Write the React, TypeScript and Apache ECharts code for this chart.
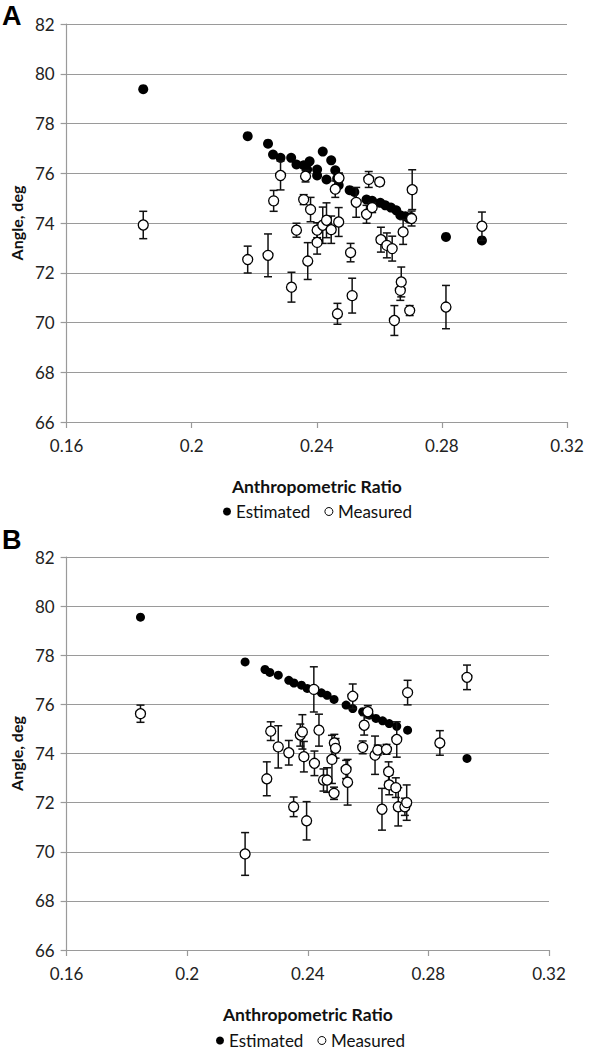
import React, { useEffect, useRef } from "react";
import * as echarts from "echarts";

// ---------- data ----------
const yTicks = [66, 68, 70, 72, 74, 76, 78, 80, 82];
const xTicks = [0.16, 0.2, 0.24, 0.28, 0.32];

// Panel A: estimated [ratio, angle]
const estA: number[][] = [
  [0.1845, 79.38], [0.2179, 77.49], [0.2244, 77.19], [0.226, 76.75], [0.2284, 76.62],
  [0.2318, 76.62], [0.2335, 76.35], [0.2358, 76.32], [0.2369, 76.15], [0.2377, 76.48],
  [0.2401, 76.15], [0.2401, 75.91], [0.2419, 76.87], [0.2431, 75.75], [0.2446, 76.52],
  [0.2459, 76.12], [0.2465, 75.79], [0.247, 75.52], [0.2505, 75.32], [0.252, 75.25],
  [0.2559, 74.94], [0.2577, 74.89], [0.2603, 74.81], [0.2619, 74.71], [0.2637, 74.62],
  [0.2654, 74.51], [0.2667, 74.31], [0.2683, 74.27], [0.2694, 74.18], [0.2701, 74.24],
  [0.2813, 73.44], [0.2928, 73.3],
];
// Panel A: measured [ratio, angle, error]
const measA: number[][] = [
  [0.1845, 73.92, 0.55], [0.2179, 72.53, 0.54], [0.2244, 72.7, 0.86], [0.2262, 74.89, 0.42],
  [0.2284, 75.91, 0.58], [0.2319, 71.42, 0.6], [0.2335, 73.71, 0.28], [0.2358, 74.94, 0.2],
  [0.2364, 75.88, 0.23], [0.2371, 72.47, 0.74], [0.238, 74.54, 0.49], [0.2401, 73.71, 0.3],
  [0.2401, 73.22, 0.47], [0.2419, 73.91, 0.73], [0.2431, 74.11, 0.7], [0.2446, 73.73, 0.55],
  [0.2459, 75.36, 0.33], [0.2466, 70.35, 0.42], [0.247, 74.04, 0.58], [0.2471, 75.81, 0.2],
  [0.2508, 72.81, 0.37], [0.2513, 71.08, 0.7], [0.2526, 74.83, 0.6], [0.2559, 74.35, 0.36],
  [0.2566, 75.75, 0.32], [0.2577, 74.62, 0.2], [0.2601, 75.65, 0.15], [0.2605, 73.33, 0.5],
  [0.2624, 73.1, 0.5], [0.2641, 72.97, 0.5], [0.2648, 70.08, 0.6], [0.2667, 71.29, 0.4],
  [0.267, 71.63, 0.6], [0.2676, 73.64, 0.5], [0.2697, 70.48, 0.2], [0.2703, 74.18, 0.3],
  [0.2705, 75.34, 0.8], [0.2813, 70.62, 0.87], [0.2928, 73.87, 0.57],
];
// Panel B: estimated
const estB: number[][] = [
  [0.1845, 79.55], [0.2192, 77.73], [0.2258, 77.42], [0.2274, 77.3], [0.2302, 77.19],
  [0.2337, 76.98], [0.2354, 76.87], [0.2379, 76.78], [0.2398, 76.65], [0.2422, 76.58],
  [0.2445, 76.47], [0.2464, 76.37], [0.2487, 76.2], [0.2527, 75.97], [0.2549, 75.83],
  [0.2582, 75.7], [0.2604, 75.56], [0.2626, 75.43], [0.2648, 75.33], [0.267, 75.22],
  [0.2695, 75.11], [0.2731, 74.95], [0.2838, 74.38], [0.2928, 73.8],
];
// Panel B: measured
const measB: number[][] = [
  [0.1845, 75.62, 0.35], [0.2192, 69.91, 0.87], [0.2264, 72.97, 0.69], [0.2277, 74.91, 0.38],
  [0.2302, 74.27, 0.86], [0.2337, 74.03, 0.5], [0.2353, 71.83, 0.4], [0.2375, 74.75, 0.45],
  [0.2382, 74.88, 0.7], [0.2387, 73.87, 0.62], [0.2396, 71.26, 0.78], [0.242, 76.61, 0.92],
  [0.2422, 73.6, 0.5], [0.2437, 74.95, 0.65], [0.2452, 72.92, 0.45], [0.2464, 72.92, 0.5],
  [0.248, 73.76, 0.98], [0.2487, 72.38, 0.25], [0.2488, 74.43, 0.35], [0.2492, 74.21, 0.4],
  [0.2527, 73.35, 0.37], [0.2532, 72.83, 0.93], [0.2549, 76.33, 0.5], [0.2582, 74.25, 0.26],
  [0.2587, 75.15, 0.4], [0.2599, 75.7, 0.25], [0.2623, 73.93, 0.78], [0.2632, 74.14, 0.2],
  [0.2646, 71.73, 0.85], [0.2661, 74.17, 0.2], [0.2668, 73.26, 0.4], [0.267, 72.72, 0.4],
  [0.2692, 72.61, 0.4], [0.2695, 74.57, 0.72], [0.27, 71.83, 0.78], [0.2722, 71.83, 0.35],
  [0.2728, 72.0, 0.72], [0.2731, 76.48, 0.5], [0.2838, 74.43, 0.5], [0.2928, 77.1, 0.5],
];

const FONT = "Lato, 'Open Sans', sans-serif";
const GRID_COLOR = "#9a9a9a";

function errorData(rows: number[][]) {
  return rows.map((r) => [r[0], r[1], r[1] - r[2], r[1] + r[2]]);
}

function errorSeries(rows: number[][], idx: number) {
  return {
    type: "custom",
    name: "Measured",
    xAxisIndex: idx,
    yAxisIndex: idx,
    z: 3,
    silent: true,
    encode: { x: 0, y: [1, 2, 3] },
    data: errorData(rows),
    renderItem: (params: any, api: any) => {
      const x = api.value(0);
      const lo = api.coord([x, api.value(2)]);
      const hi = api.coord([x, api.value(3)]);
      const w = 4;
      const st = { stroke: "#111", lineWidth: 1.5 };
      return {
        type: "group",
        children: [
          { type: "line", shape: { x1: hi[0], y1: hi[1], x2: lo[0], y2: lo[1] }, style: st },
          { type: "line", shape: { x1: hi[0] - w, y1: hi[1], x2: hi[0] + w, y2: hi[1] }, style: st },
          { type: "line", shape: { x1: lo[0] - w, y1: lo[1], x2: lo[0] + w, y2: lo[1] }, style: st },
        ],
      };
    },
  };
}

function xAxis(idx: number) {
  return {
    type: "value",
    gridIndex: idx,
    min: 0.16,
    max: 0.32,
    interval: 0.04,
    name: "Anthropometric Ratio",
    nameLocation: "middle",
    nameGap: 55,
    nameTextStyle: { fontFamily: FONT, fontWeight: "bold", fontSize: 17.5, color: "#111" },
    axisLine: { show: true, lineStyle: { color: GRID_COLOR, width: 1.2 } },
    axisTick: { show: true, inside: false, length: 6, lineStyle: { color: GRID_COLOR, width: 1.2 } },
    axisLabel: {
      fontFamily: FONT,
      fontSize: 17,
      color: "#222",
      margin: 15,
      formatter: (v: number) => {
        const t = xTicks.find((k) => Math.abs(k - v) < 1e-6);
        return t === undefined ? "" : String(t);
      },
    },
    splitLine: { show: false },
  };
}

function yAxis(idx: number) {
  return {
    type: "value",
    gridIndex: idx,
    min: 66,
    max: 82,
    interval: 2,
    name: "Angle, deg",
    nameLocation: "middle",
    nameGap: 38,
    nameRotate: 90,
    nameTextStyle: { fontFamily: FONT, fontWeight: "bold", fontSize: 16, color: "#111" },
    axisLine: { show: true, lineStyle: { color: GRID_COLOR, width: 1.2 } },
    axisTick: { show: true, inside: false, length: 6, lineStyle: { color: GRID_COLOR, width: 1.2 } },
    axisLabel: {
      fontFamily: FONT,
      fontSize: 17,
      color: "#222",
      margin: 12,
      formatter: (v: number) => (yTicks.includes(v) ? String(v) : ""),
    },
    splitLine: { show: true, lineStyle: { color: GRID_COLOR, width: 1.2 } },
  };
}

function legend(top: number, left: number) {
  return {
    top,
    left,
    itemWidth: 8,
    itemHeight: 8,
    itemGap: 14,
    icon: "circle",
    textStyle: { fontFamily: FONT, fontSize: 17, color: "#111" },
    data: [
      { name: "Estimated", icon: "circle", itemStyle: { color: "#000", borderWidth: 0 } },
      { name: "Measured", icon: "circle", itemStyle: { color: "#fff", borderColor: "#000", borderWidth: 1 } },
    ],
    selectedMode: false,
  };
}

export default function App() {
  const ref = useRef<HTMLDivElement>(null);
  useEffect(() => {
    if (!ref.current) return;
    const chart = echarts.init(ref.current, undefined, { renderer: "svg" });
    const option: any = {
      animation: false,
      backgroundColor: "#fff",
      grid: [
        { left: 66, right: 24, top: 24, height: 398 },
        { left: 64, right: 42, top: 557, height: 393 },
      ],
      xAxis: [xAxis(0), xAxis(1)],
      yAxis: [yAxis(0), yAxis(1)],
      legend: [legend(498, 218), legend(1027, 211)],
      graphic: [
        { type: "text", left: 2, top: 2, style: { text: "A", fontFamily: "Arial, 'Liberation Sans', sans-serif", fontWeight: "bold", fontSize: 27, fill: "#000" } },
        { type: "text", left: 2, top: 526, style: { text: "B", fontFamily: "Arial, 'Liberation Sans', sans-serif", fontWeight: "bold", fontSize: 27, fill: "#000" } },
      ],
      series: [
        {
          type: "scatter", name: "Estimated", xAxisIndex: 0, yAxisIndex: 0, z: 2,
          symbol: "circle", symbolSize: 10, itemStyle: { color: "#000", opacity: 1 }, data: estA,
        },
        errorSeries(measA, 0),
        {
          type: "scatter", name: "Measured", xAxisIndex: 0, yAxisIndex: 0, z: 4,
          symbol: "circle", symbolSize: 10,
          itemStyle: { color: "#fff", borderColor: "#000", borderWidth: 1.3, opacity: 1 },
          data: measA.map((r) => [r[0], r[1]]),
        },
        {
          type: "scatter", name: "Estimated", xAxisIndex: 1, yAxisIndex: 1, z: 2,
          symbol: "circle", symbolSize: 9, itemStyle: { color: "#000", opacity: 1 }, data: estB,
        },
        errorSeries(measB, 1),
        {
          type: "scatter", name: "Measured", xAxisIndex: 1, yAxisIndex: 1, z: 4,
          symbol: "circle", symbolSize: 10,
          itemStyle: { color: "#fff", borderColor: "#000", borderWidth: 1.3, opacity: 1 },
          data: measB.map((r) => [r[0], r[1]]),
        },
      ],
    };
    chart.setOption(option);
    return () => chart.dispose();
  }, []);
  return (
    <div
      ref={ref}
      style={{ position: "fixed", left: 0, top: 0, width: 591, height: 1050, background: "#fff" }}
    />
  );
}
